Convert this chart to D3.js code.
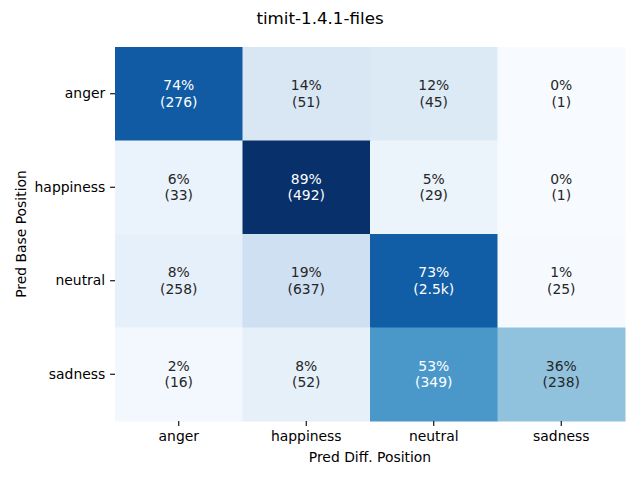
<!DOCTYPE html>
<html>
<head>
<meta charset="utf-8">
<script src="https://cdn.jsdelivr.net/npm/d3@7/dist/d3.min.js"></script>
<style>
  html, body { margin: 0; padding: 0; background: #fff; }
  text { font-family: "DejaVu Sans", sans-serif; }
</style>
</head>
<body>
<svg id="chart" width="640" height="480"></svg>
<script>
const title = "timit-1.4.1-files";
const rowLabels = ["anger", "happiness", "neutral", "sadness"];
const colLabels = ["anger", "happiness", "neutral", "sadness"];
const xTitle = "Pred Diff. Position";
const yTitle = "Pred Base Position";
// counts per row (Pred Base) and column (Pred Diff)
const countsAnger     = [276, 51, 45, 1];
const countsHappiness = [33, 492, 29, 1];
const countsNeutral   = [258, 637, 2500, 25];
const countsSadness   = [16, 52, 349, 238];
const counts = [countsAnger, countsHappiness, countsNeutral, countsSadness];

const bluesStops = ["#f7fbff","#deebf7","#c6dbef","#9ecae1","#6baed6","#4292c6","#2171b5","#08519c","#08306b"];

const svg = d3.select("#chart");
const W = 640, H = 480;
const pLeft = 115, pRight = 625, pTop = 47, pBottom = 421;

const cells = [];
counts.forEach((row, i) => {
  const total = d3.sum(row);
  row.forEach((c, j) => cells.push({ r: rowLabels[i], c: colLabels[j], n: c, p: c / total }));
});

const x = d3.scaleBand().domain(colLabels).range([pLeft, pRight]).padding(0);
const y = d3.scaleBand().domain(rowLabels).range([pTop, pBottom]).padding(0);

const pExt = d3.extent(cells, d => d.p);
const tScale = d3.scaleLinear().domain(pExt).range([0, 1]);
const cmap = d3.scaleLinear()
  .domain(bluesStops.map((_, k) => k / (bluesStops.length - 1)))
  .range(bluesStops)
  .interpolate(d3.interpolateRgb)
  .clamp(true);
const color = p => cmap(tScale(p));

function lum(col) {
  const c = d3.rgb(col);
  const f = v => { v /= 255; return v <= 0.03928 ? v / 12.92 : Math.pow((v + 0.055) / 1.055, 2.4); };
  return 0.2126 * f(c.r) + 0.7152 * f(c.g) + 0.0722 * f(c.b);
}

const fmtN = n => n >= 1000 ? (n / 1000).toFixed(1) + "k" : String(n);

svg.append("g").selectAll("rect").data(cells).join("rect")
  .attr("x", d => x(d.c)).attr("y", d => y(d.r))
  .attr("width", x.bandwidth() + 0.5).attr("height", y.bandwidth() + 0.5)
  .attr("fill", d => color(d.p));

const ann = svg.append("g").selectAll("text").data(cells).join("text")
  .attr("text-anchor", "middle")
  .attr("font-size", "13.9px")
  .attr("fill", d => lum(color(d.p)) > 0.408 ? "#262626" : "#ffffff");
ann.append("tspan")
  .attr("x", d => x(d.c) + x.bandwidth() / 2)
  .attr("y", d => y(d.r) + y.bandwidth() / 2 - 8.3)
  .attr("dy", "0.35em")
  .text(d => Math.round(d.p * 100) + "%");
ann.append("tspan")
  .attr("x", d => x(d.c) + x.bandwidth() / 2)
  .attr("y", d => y(d.r) + y.bandwidth() / 2 + 8.3)
  .attr("dy", "0.35em")
  .text(d => "(" + fmtN(d.n) + ")");

// axes
const xAxis = svg.append("g").attr("transform", `translate(0,${pBottom})`)
  .call(d3.axisBottom(x).tickSize(4.9).tickPadding(4.9));
const yAxis = svg.append("g").attr("transform", `translate(${pLeft},0)`)
  .call(d3.axisLeft(y).tickSize(4.9).tickPadding(4.9));
[xAxis, yAxis].forEach(g => {
  g.select(".domain").remove();
  g.selectAll(".tick line").attr("stroke", "#000").attr("stroke-width", 1.1);
  g.selectAll(".tick text").attr("font-size", "13.9px").attr("fill", "#000")
    .attr("font-family", "DejaVu Sans, sans-serif");
});

svg.append("text").attr("x", (pLeft + pRight) / 2).attr("y", 457).attr("dy", "0.35em")
  .attr("text-anchor", "middle").attr("font-size", "13.9px").attr("fill", "#000").text(xTitle);
svg.append("text").attr("transform", `translate(21,${(pTop + pBottom) / 2}) rotate(-90)`)
  .attr("dy", "0.35em").attr("text-anchor", "middle").attr("font-size", "13.9px").attr("fill", "#000").text(yTitle);
svg.append("text").attr("x", W / 2).attr("y", 18).attr("dy", "0.35em")
  .attr("text-anchor", "middle").attr("font-size", "16.7px").attr("fill", "#000").text(title);
</script>
</body>
</html>
